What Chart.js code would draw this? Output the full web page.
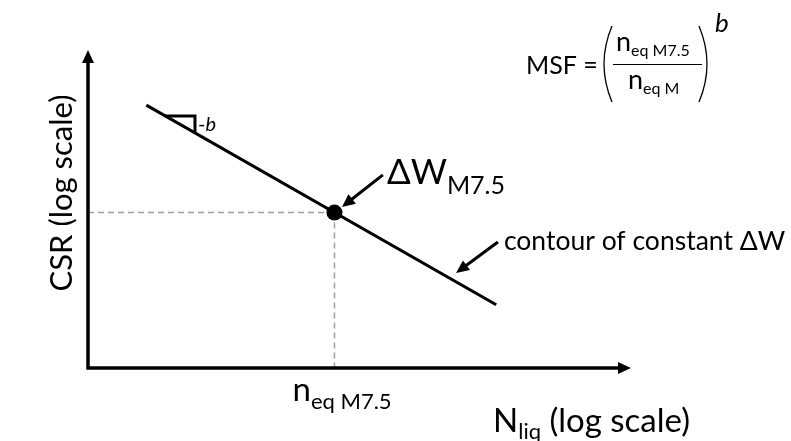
<!DOCTYPE html>
<html>
<head>
<meta charset="utf-8">
<script src="https://cdn.jsdelivr.net/npm/chart.js@4.4.0/dist/chart.umd.min.js"></script>
<style>
  html, body { margin: 0; padding: 0; background: #fff; }
</style>
</head>
<body>
<canvas id="msf-chart" width="791" height="441"></canvas>
<script>
// N_liq on x, CSR on y, both log axes (no ticks shown)
const xRange = [1, 1000];
const yRange = [0.01, 1];

// contour of constant ΔW
const contourN = [2.1, 180];
const contourCSR = [0.45, 0.025];

// ΔW at M7.5
const refN = [23];
const refCSR = [0.095];

// slope marker (-b) sitting on the contour
const slopeN = [2.66, 3.9, 3.9];
const slopeCSR = [0.385, 0.385, 0.301];

// callout arrows: tail N, tail CSR, tip N, tip CSR
const dwArrow = [42.6, 0.164, 25.3, 0.103];
const contourArrow = [184, 0.062, 108, 0.0396];

const FONT = 'Lato, "Open Sans", sans-serif';

function pts(xs, ys) {
    return xs.map((x, i) => ({ x: x, y: ys[i] }));
}

function arrowHead(ctx, x0, y0, x1, y1, len, half) {
    const a = Math.atan2(y1 - y0, x1 - x0);
    ctx.beginPath();
    ctx.moveTo(x1, y1);
    ctx.lineTo(x1 - len * Math.cos(a) + half * Math.sin(a), y1 - len * Math.sin(a) - half * Math.cos(a));
    ctx.lineTo(x1 - len * Math.cos(a) - half * Math.sin(a), y1 - len * Math.sin(a) + half * Math.cos(a));
    ctx.closePath();
    ctx.fill();
}

function drawArrow(ctx, x0, y0, x1, y1) {
    const a = Math.atan2(y1 - y0, x1 - x0);
    ctx.beginPath();
    ctx.moveTo(x0, y0);
    ctx.lineTo(x1 - 10 * Math.cos(a), y1 - 10 * Math.sin(a));
    ctx.stroke();
    arrowHead(ctx, x0, y0, x1, y1, 13, 6);
}

// base text followed by smaller, lowered pieces
function drawRuns(ctx, x, y, runs) {
    let cx = x;
    runs.forEach(r => {
        ctx.font = (r.italic ? 'italic ' : '') + r.size + 'px ' + FONT;
        ctx.fillText(r.t, cx, y + (r.dy || 0));
        cx += ctx.measureText(r.t).width;
    });
    return cx;
}

const diagramPlugin = {
    id: 'diagram',
    afterDraw(chart) {
        const ctx = chart.ctx;
        const xs = chart.scales.x;
        const ys = chart.scales.y;
        const area = chart.chartArea;
        ctx.save();
        ctx.fillStyle = '#000';
        ctx.strokeStyle = '#000';

        // axes with arrow tips
        ctx.lineWidth = 3.5;
        ctx.lineCap = 'butt';
        ctx.beginPath();
        ctx.moveTo(area.left, area.top + 10);
        ctx.lineTo(area.left, area.bottom);
        ctx.lineTo(area.right - 10, area.bottom);
        ctx.stroke();
        arrowHead(ctx, area.left, area.bottom, area.left, area.top, 13, 6);
        arrowHead(ctx, area.left, area.bottom, area.right, area.bottom, 13, 6);

        // callouts
        ctx.lineWidth = 3;
        const dw = [xs.getPixelForValue(dwArrow[0]), ys.getPixelForValue(dwArrow[1]),
                    xs.getPixelForValue(dwArrow[2]), ys.getPixelForValue(dwArrow[3])];
        const ct = [xs.getPixelForValue(contourArrow[0]), ys.getPixelForValue(contourArrow[1]),
                    xs.getPixelForValue(contourArrow[2]), ys.getPixelForValue(contourArrow[3])];
        drawArrow(ctx, dw[0], dw[1], dw[2], dw[3]);
        drawArrow(ctx, ct[0], ct[1], ct[2], ct[3]);

        ctx.textBaseline = 'alphabetic';
        ctx.textAlign = 'left';
        drawRuns(ctx, dw[0] + 4, dw[1] + 9, [
            { t: '\u0394W', size: 35 },
            { t: 'M7.5', size: 25, dy: 10 }
        ]);
        drawRuns(ctx, ct[0] + 6, ct[1] + 8, [{ t: 'contour of constant \u0394W', size: 26.5 }]);

        // slope label
        const sx = xs.getPixelForValue(slopeN[2]);
        const sy = (ys.getPixelForValue(slopeCSR[0]) + ys.getPixelForValue(slopeCSR[2])) / 2;
        drawRuns(ctx, sx + 3, sy + 7, [{ t: '-', size: 20 }, { t: 'b', size: 20, italic: true }]);

        // tick label under the reference point
        const rx = xs.getPixelForValue(refN[0]);
        drawRuns(ctx, rx - 42, area.bottom + 33, [
            { t: 'n', size: 33 },
            { t: 'eq M7.5', size: 22, dy: 8 }
        ]);

        // axis titles
        drawRuns(ctx, 493, 432, [
            { t: 'N', size: 33 },
            { t: 'liq', size: 22, dy: 7 },
            { t: ' (log scale)', size: 33 }
        ]);
        ctx.save();
        ctx.translate(72, 193);
        ctx.rotate(-Math.PI / 2);
        ctx.textAlign = 'center';
        ctx.font = '31px ' + FONT;
        ctx.fillText('CSR (log scale)', 0, 0);
        ctx.restore();

        // MSF = (n_eq M7.5 / n_eq M)^b
        drawRuns(ctx, 526, 74, [{ t: 'MSF =', size: 25 }]);
        ctx.lineWidth = 1.3;
        ctx.beginPath();
        ctx.moveTo(612, 26);
        ctx.quadraticCurveTo(596, 64, 612, 102);
        ctx.moveTo(699, 26);
        ctx.quadraticCurveTo(715, 64, 699, 102);
        ctx.stroke();
        ctx.lineWidth = 1;
        ctx.beginPath();
        ctx.moveTo(613, 64.5);
        ctx.lineTo(702, 64.5);
        ctx.stroke();
        drawRuns(ctx, 616, 51, [{ t: 'n', size: 27 }, { t: 'eq M7.5', size: 16, dy: 5 }]);
        drawRuns(ctx, 628, 89, [{ t: 'n', size: 27 }, { t: 'eq M', size: 16, dy: 5 }]);
        drawRuns(ctx, 715, 32, [{ t: 'b', size: 26, italic: true }]);

        ctx.restore();
    }
};

new Chart(document.getElementById('msf-chart'), {
    type: 'scatter',
    data: {
        datasets: [
            {
                data: pts(refN, refCSR),
                pointRadius: 8,
                pointBackgroundColor: '#000',
                pointBorderWidth: 0,
                showLine: false,
                order: 0
            },
            {
                data: pts(contourN, contourCSR),
                showLine: true,
                borderColor: '#000',
                borderWidth: 3,
                pointRadius: 0,
                order: 1
            },
            {
                data: pts(slopeN, slopeCSR),
                showLine: true,
                borderColor: '#000',
                borderWidth: 3,
                pointRadius: 0,
                order: 2
            },
            {
                data: pts([xRange[0], refN[0]], [refCSR[0], refCSR[0]]),
                showLine: true,
                borderColor: '#a0a0a0',
                borderWidth: 1.5,
                borderDash: [6, 4],
                pointRadius: 0,
                order: 3
            },
            {
                data: pts([refN[0], refN[0]], [refCSR[0], yRange[0]]),
                showLine: true,
                borderColor: '#a0a0a0',
                borderWidth: 1.5,
                borderDash: [6, 4],
                pointRadius: 0,
                order: 3
            }
        ]
    },
    options: {
        responsive: false,
        animation: false,
        devicePixelRatio: 1,
        layout: { padding: { left: 88, right: 160, top: 50, bottom: 73 } },
        plugins: {
            legend: { display: false },
            tooltip: { enabled: false }
        },
        scales: {
            x: { type: 'logarithmic', min: xRange[0], max: xRange[1], display: false },
            y: { type: 'logarithmic', min: yRange[0], max: yRange[1], display: false }
        }
    },
    plugins: [diagramPlugin]
});
</script>
</body>
</html>
